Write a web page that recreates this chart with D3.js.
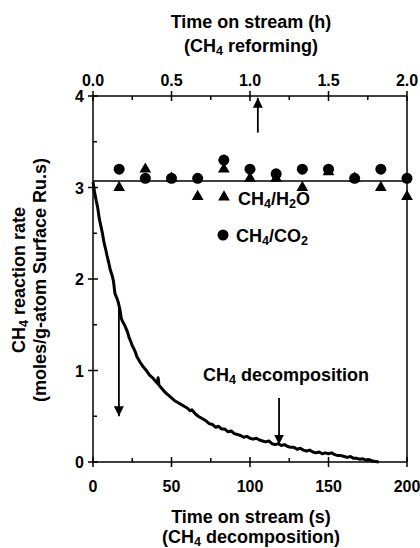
<!DOCTYPE html>
<html>
<head>
<meta charset="utf-8">
<script src="https://cdn.jsdelivr.net/npm/d3@7"></script>
<style>
  html, body { margin: 0; padding: 0; background: #fff; }
  svg { display: block; }
  text { font-family: "Liberation Sans", Arial, sans-serif; font-weight: bold; fill: #000; }
</style>
</head>
<body>
<svg id="chart" width="420" height="548"></svg>
<script>
// CH4 reforming: time on stream (h) and rate, every 10 minutes
const reformHours = [1/6, 2/6, 3/6, 4/6, 5/6, 1, 7/6, 8/6, 9/6, 10/6, 11/6, 2];
const rateH2O = [3.0, 3.2, 3.1, 2.9, 3.2, 3.1, 3.1, 3.0, 3.17, 3.1, 3.0, 2.9];
const rateCO2 = [3.2, 3.1, 3.1, 3.1, 3.3, 3.2, 3.15, 3.2, 3.2, 3.1, 3.2, 3.1];
const steadyRate = 3.07;

// CH4 decomposition: time on stream (s) and rate
const decompTime = [0, 1, 2, 3, 4, 5, 6, 7, 8, 9, 10, 11, 12, 13, 14, 15, 16, 17, 18, 19, 20,
  21, 22, 23, 24, 25, 26, 27, 28, 29, 30, 32, 34, 36, 38, 40, 41, 41.5, 42, 44, 46, 48, 50,
  52, 54, 56, 58, 60, 62, 63, 65, 67, 70, 72, 74, 76, 78, 80, 82, 84, 86, 88, 90, 92, 94,
  96, 98, 100, 102, 104, 106, 108, 110, 112, 114, 116, 118, 120, 122, 124, 126, 128, 130,
  132, 134, 136, 138, 140, 142, 144, 146, 148, 150, 152, 154, 156, 158, 160, 162, 164, 166,
  168, 170, 172, 174, 176, 178, 180, 182];
const decompRate = [3.06, 2.95, 2.86, 2.78, 2.66, 2.58, 2.50, 2.40, 2.33, 2.25, 2.18, 2.10,
  2.05, 1.98, 1.84, 1.80, 1.75, 1.68, 1.57, 1.53, 1.50, 1.46, 1.42, 1.36, 1.32, 1.27, 1.24,
  1.20, 1.15, 1.12, 1.09, 1.04, 1.00, 0.95, 0.92, 0.88, 0.86, 0.92, 0.84, 0.80, 0.76, 0.73,
  0.70, 0.67, 0.65, 0.63, 0.61, 0.59, 0.56, 0.57, 0.53, 0.50, 0.47, 0.45, 0.42, 0.41, 0.38,
  0.39, 0.36, 0.36, 0.33, 0.34, 0.31, 0.30, 0.29, 0.27, 0.28, 0.26, 0.25, 0.26, 0.24, 0.23,
  0.22, 0.23, 0.20, 0.19, 0.20, 0.18, 0.19, 0.17, 0.16, 0.16, 0.14, 0.15, 0.13, 0.12, 0.13,
  0.11, 0.10, 0.11, 0.09, 0.10, 0.09, 0.10, 0.08, 0.07, 0.07, 0.06, 0.05, 0.06, 0.04, 0.04,
  0.03, 0.035, 0.02, 0.025, 0.01, 0.005, 0];

// Axis ticks
const secTicks = [0, 50, 100, 150, 200];
const hourTicks = [0, 0.5, 1.0, 1.5, 2.0];
const rateTicks = [0, 1, 2, 3, 4];

// Arrows: [axis, x, yFrom, yTo]
const arrows = [
  { axis: "h", x: 1.05, from: 3.6, to: 3.98 },
  { axis: "s", x: 16.5, from: 1.75, to: 0.5 },
  { axis: "s", x: 118.5, from: 0.7, to: 0.19 }
];

const svg = d3.select("#chart");
const pLeft = 93, pRight = 407, pTop = 96, pBottom = 462;

const xs = d3.scaleLinear().domain([0, 200]).range([pLeft, pRight]);
const xh = d3.scaleLinear().domain([0, 2]).range([pLeft, pRight]);
const y = d3.scaleLinear().domain([0, 4]).range([pBottom, pTop]);

// arrowhead marker
svg.append("defs").append("marker")
  .attr("id", "head").attr("viewBox", "0 0 10 10")
  .attr("refX", 10).attr("refY", 5)
  .attr("markerWidth", 10).attr("markerHeight", 10)
  .attr("markerUnits", "userSpaceOnUse")
  .attr("orient", "auto")
  .append("path").attr("d", "M0,0 L10,5 L0,10 Z").attr("fill", "#000");

// frame
const frame = svg.append("g").attr("stroke", "#000").attr("stroke-width", 1.5).attr("fill", "none");
frame.append("line").attr("x1", pLeft).attr("x2", pRight).attr("y1", pBottom).attr("y2", pBottom);
frame.append("line").attr("x1", pLeft).attr("x2", pRight).attr("y1", pTop).attr("y2", pTop);
frame.append("line").attr("x1", pLeft).attr("x2", pLeft).attr("y1", pTop).attr("y2", pBottom);
frame.append("line").attr("x1", pRight).attr("x2", pRight).attr("y1", pTop).attr("y2", pBottom);

// ticks: majors cross the axis, minors point inward
const tk = svg.append("g").attr("stroke", "#000").attr("stroke-width", 1.5);
secTicks.forEach(v => tk.append("line").attr("x1", xs(v)).attr("x2", xs(v)).attr("y1", pBottom - 5).attr("y2", pBottom + 5));
d3.range(25, 200, 50).forEach(v => tk.append("line").attr("x1", xs(v)).attr("x2", xs(v)).attr("y1", pBottom - 4).attr("y2", pBottom));
hourTicks.forEach(v => tk.append("line").attr("x1", xh(v)).attr("x2", xh(v)).attr("y1", pTop - 5).attr("y2", pTop + 5));
d3.range(0.25, 2, 0.5).forEach(v => tk.append("line").attr("x1", xh(v)).attr("x2", xh(v)).attr("y1", pTop).attr("y2", pTop + 4));
rateTicks.forEach(v => tk.append("line").attr("x1", pLeft - 5).attr("x2", pLeft + 5).attr("y1", y(v)).attr("y2", y(v)));
d3.range(0.5, 4, 1).forEach(v => tk.append("line").attr("x1", pLeft).attr("x2", pLeft + 4).attr("y1", y(v)).attr("y2", y(v)));

// tick labels
const tl = svg.append("g").attr("font-size", 16);
secTicks.forEach(v => tl.append("text").attr("x", xs(v)).attr("y", 492).attr("text-anchor", "middle").text(d3.format("d")(v)));
hourTicks.forEach(v => tl.append("text").attr("x", xh(v)).attr("y", 86).attr("text-anchor", "middle").text(d3.format(".1f")(v)));
rateTicks.forEach(v => tl.append("text").attr("x", 84).attr("y", y(v) + 6).attr("text-anchor", "end").text(v));

// text helper with subscripts: parts = [[text, isSub], ...]
function rich(g, parts) {
  parts.forEach(([t, sub]) => {
    const ts = g.append("tspan").text(t);
    if (sub) ts.attr("font-size", "70%").attr("baseline-shift", "-25%");
  });
  return g;
}

// axis titles
rich(svg.append("text").attr("x", 251).attr("y", 28).attr("text-anchor", "middle").attr("font-size", 18), [["Time on stream (h)"]]);
rich(svg.append("text").attr("x", 251).attr("y", 52).attr("text-anchor", "middle").attr("font-size", 18), [["(CH"], ["4", true], [" reforming)"]]);
rich(svg.append("text").attr("x", 251).attr("y", 523).attr("text-anchor", "middle").attr("font-size", 18), [["Time on stream (s)"]]);
rich(svg.append("text").attr("x", 251).attr("y", 543).attr("text-anchor", "middle").attr("font-size", 18), [["(CH"], ["4", true], [" decomposition)"]]);
rich(svg.append("text").attr("transform", "translate(25,280) rotate(-90)").attr("text-anchor", "middle").attr("font-size", 18), [["CH"], ["4", true], [" reaction rate"]]);
rich(svg.append("text").attr("transform", "translate(46,280) rotate(-90)").attr("text-anchor", "middle").attr("font-size", 18), [["(moles/g-atom Surface Ru.s)"]]);

// steady-state reference line
svg.append("line").attr("x1", pLeft).attr("x2", pRight).attr("y1", y(steadyRate)).attr("y2", y(steadyRate))
  .attr("stroke", "#000").attr("stroke-width", 1.5);

// decomposition curve
svg.append("path")
  .datum(decompTime.map((t, i) => [t, decompRate[i]]))
  .attr("d", d3.line().x(d => xs(d[0])).y(d => y(d[1])))
  .attr("fill", "none").attr("stroke", "#000").attr("stroke-width", 3).attr("stroke-linejoin", "round");

// reforming markers
const tri = d3.symbol().type(d3.symbolTriangle).size(60);
svg.append("g").selectAll("path").data(reformHours).join("path")
  .attr("d", tri).attr("transform", (h, i) => `translate(${xh(h)},${y(rateH2O[i])})`).attr("fill", "#000");
svg.append("g").selectAll("circle").data(reformHours).join("circle")
  .attr("cx", h => xh(h)).attr("cy", (h, i) => y(rateCO2[i])).attr("r", 5.5).attr("fill", "#000");

// legend
svg.append("path").attr("d", tri).attr("transform", "translate(224,197)").attr("fill", "#000");
rich(svg.append("text").attr("x", 238).attr("y", 205).attr("font-size", 18), [["CH"], ["4", true], ["/H"], ["2", true], ["O"]]);
svg.append("circle").attr("cx", 223).attr("cy", 235).attr("r", 5.5).attr("fill", "#000");
rich(svg.append("text").attr("x", 236).attr("y", 242).attr("font-size", 18), [["CH"], ["4", true], ["/CO"], ["2", true]]);

// annotation
rich(svg.append("text").attr("x", 203).attr("y", 381).attr("font-size", 18), [["CH"], ["4", true], [" decomposition"]]);

// arrows
arrows.forEach(a => {
  const sx = a.axis === "h" ? xh : xs;
  svg.append("line")
    .attr("x1", sx(a.x)).attr("x2", sx(a.x)).attr("y1", y(a.from)).attr("y2", y(a.to))
    .attr("stroke", "#000").attr("stroke-width", 1.8).attr("marker-end", "url(#head)");
});
</script>
</body>
</html>
